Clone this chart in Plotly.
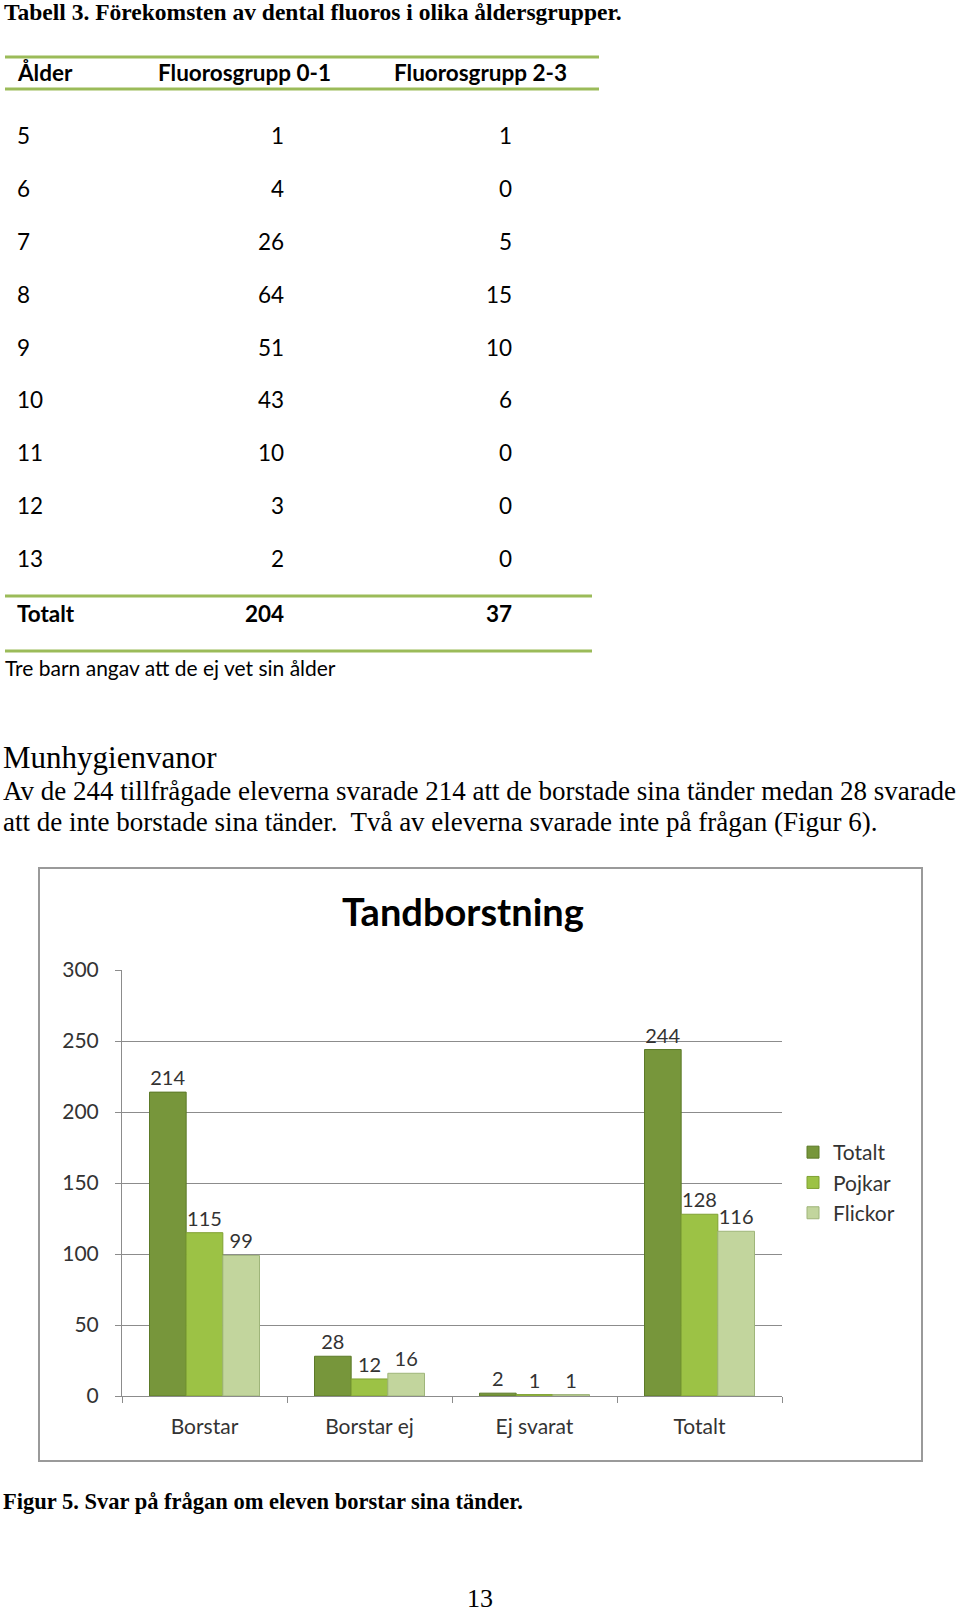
import plotly.graph_objects as go

W, H = 960, 1616

def X(p):
    return p / W

def Y(p):
    return 1 - p / H

# ---------------- data ----------------
ages = ["5", "6", "7", "8", "9", "10", "11", "12", "13"]
fluoro_01 = [1, 4, 26, 64, 51, 43, 10, 3, 2]
fluoro_23 = [1, 0, 5, 15, 10, 6, 0, 0, 0]
total_01 = 204
total_23 = 37

categories = ["Borstar", "Borstar ej", "Ej svarat", "Totalt"]
totalt = [214, 28, 2, 244]
pojkar = [115, 12, 1, 128]
flickor = [99, 16, 1, 116]
series_names = ["Totalt", "Pojkar", "Flickor"]

# ---------------- styles ----------------
SERIF = "Liberation Serif"
SANS = "Lato"
GREEN_LINE = "#9bbb59"
AX = "#8c8c8c"

fig = go.Figure()

fills = ["#77963b", "#9cc245", "#c2d59d"]
edges = ["#5c7a28", "#7fa132", "#9fb57a"]
for name, vals, fc, ec in zip(series_names, [totalt, pojkar, flickor], fills, edges):
    fig.add_trace(go.Bar(
        name=name, x=categories, y=vals, legendgroup=name,
        marker=dict(color=fc, line=dict(color=ec, width=1)),
        text=vals, textposition="outside", cliponaxis=False,
        textfont=dict(family=SANS, size=20, color="#333333"),
    ))

ann = []

def text(x, y, s, size, family=SERIF, bold=False, xanchor="left", color="#000000", yanchor="middle"):
    if bold:
        s = "<b>" + s + "</b>"
    ann.append(dict(x=X(x), y=Y(y), xref="paper", yref="paper", text=s,
                    showarrow=False, xanchor=xanchor, yanchor=yanchor,
                    font=dict(family=family, size=size, color=color)))

# Page title
text(2, 12, "Tabell 3. Förekomsten av dental fluoros i olika åldersgrupper.", 23.5, SERIF, True)

# Table header
text(15, 73, "Ålder", 22.5, SANS, True)
text(244, 73, "Fluorosgrupp 0-1", 22.5, SANS, True, "center")
text(480, 73, "Fluorosgrupp 2-3", 22.5, SANS, True, "center")

row_y0, row_step = 136, 52.75
for i, (a, v1, v2) in enumerate(zip(ages, fluoro_01, fluoro_23)):
    yy = row_y0 + i * row_step
    text(15, yy, a, 22.5, SANS)
    text(286, yy, str(v1), 22.5, SANS, False, "right")
    text(514, yy, str(v2), 22.5, SANS, False, "right")

text(15, 613, "Totalt", 22.5, SANS, True)
text(286, 613, str(total_01), 22.5, SANS, True, "right")
text(514, 613, str(total_23), 22.5, SANS, True, "right")
text(3, 667, "Tre barn angav att de ej vet sin ålder", 21, SANS)

# Body text
text(1, 757, "Munhygienvanor", 31, SERIF)
text(1, 791, "Av de 244 tillfrågade eleverna svarade 214 att de borstade sina tänder medan 28 svarade", 27, SERIF)
text(1, 822, "att de inte borstade sina tänder.  Två av eleverna svarade inte på frågan (Figur 6).", 27, SERIF)

# Chart title
text(463, 911, "Tandborstning", 38, SANS, True, "center", "#000000")

# Caption and page number
text(1, 1501, "Figur 5. Svar på frågan om eleven borstar sina tänder.", 22.5, SERIF, True)
text(480, 1615, "13", 26, SERIF, False, "center", yanchor="bottom")

shapes = []

def hline(x0, x1, y, color=GREEN_LINE, width=3):
    shapes.append(dict(type="line", xref="paper", yref="paper",
                       x0=X(x0), x1=X(x1), y0=Y(y), y1=Y(y),
                       line=dict(color=color, width=width)))

hline(5, 599, 57)
hline(5, 599, 89)
hline(5, 592, 596)
hline(5, 592, 651)

shapes.append(dict(type="rect", xref="paper", yref="paper",
                   x0=X(39), x1=X(922), y0=Y(1461), y1=Y(868),
                   line=dict(color="#9a9a9a", width=2), fillcolor="rgba(0,0,0,0)", layer="below"))

fig.update_layout(
    width=W, height=H,
    margin=dict(l=0, r=0, t=0, b=0, autoexpand=False),
    paper_bgcolor="white", plot_bgcolor="white",
    barmode="group", bargap=1/3, bargroupgap=0,
    annotations=ann, shapes=shapes,
    showlegend=True,
    legend=dict(x=X(793), y=Y(1132), xanchor="left", yanchor="top",
                font=dict(family=SANS, size=21, color="#333333"),
                tracegroupgap=0, bgcolor="rgba(0,0,0,0)"),
    xaxis=dict(domain=[X(122), X(782)], type="category", categoryorder="array",
               categoryarray=categories,
               showline=True, linecolor=AX, linewidth=1,
               ticks="outside", tickson="boundaries", ticklen=6, tickcolor=AX,
               tickfont=dict(family=SANS, size=21, color="#333333"),
               ticklabelstandoff=12, showgrid=False),
    yaxis=dict(domain=[Y(1396), Y(970)], range=[0, 300], dtick=50,
               showgrid=True, gridcolor=AX, gridwidth=1,
               showline=True, linecolor=AX, linewidth=1,
               ticks="outside", ticklen=6, tickcolor=AX,
               tickfont=dict(family=SANS, size=21, color="#333333"),
               ticklabelstandoff=12, zeroline=False),
)

fig.write_html("out.html")
